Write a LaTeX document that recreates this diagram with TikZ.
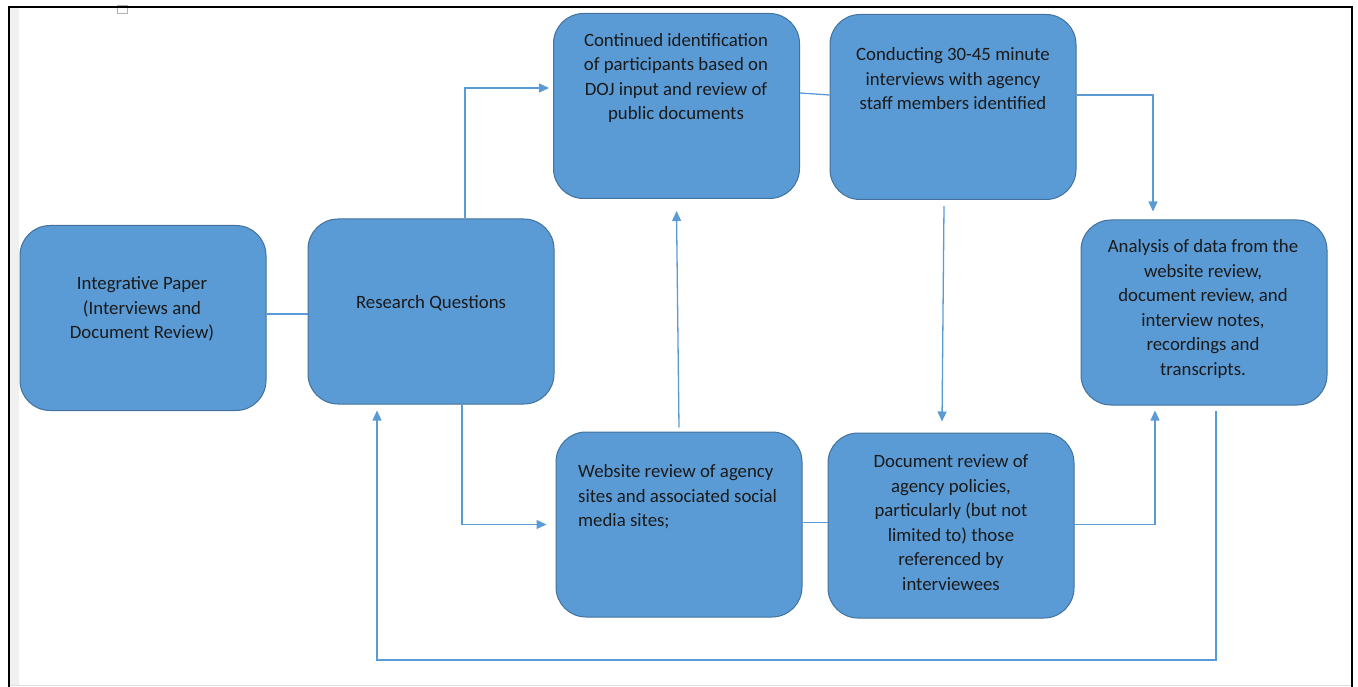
\documentclass[tikz,border=0pt]{standalone}
\usepackage{fontspec}
\setmainfont{Carlito}
\usetikzlibrary{arrows.meta,positioning}
\definecolor{boxblue}{HTML}{5B9BD5}
\definecolor{boxline}{HTML}{41719C}
\definecolor{textdark}{HTML}{1A1A1A}

\begin{document}
\begin{tikzpicture}[x=1pt,y=-1pt,
        stepbox/.style={draw=boxline, line width=1pt, fill=boxblue, rounded corners=30pt,
                minimum width=246pt, minimum height=185pt, inner sep=0pt},
        txt/.style={inner sep=0pt, align=center, text=textdark,
                font=\fontsize{18.8}{24.5}\selectfont},
        link/.style={draw=boxblue, line width=1.3pt},
        tip/.style={link, -{Triangle[length=10pt,width=9pt]}}]
        \useasboundingbox (0,0) rectangle (1358,687);

        % page frame
        \fill[gray!12] (10,8) rectangle (19,685);
        \draw[gray!25, line width=1pt] (10,685) -- (1351,685);
        \draw[gray!60, line width=0.8pt] (117,5) rectangle (127,13);
        \draw[black, line width=2pt] (9,687) -- (9,7) -- (1352,7) -- (1352,687);

        % boxes
        \node[stepbox] at (143,318) (paper) {};
        \node[stepbox] at (431,311.5) (rq) {};
        \node[stepbox] at (676.5,106) (cont) {};
        \node[stepbox] at (953,107) (cond) {};
        \node[stepbox] at (1204,312.5) (anal) {};
        \node[stepbox] at (679,524.5) (web) {};
        \node[stepbox] at (951,525.5) (doc) {};

        % texts
        \node[txt] at (142,309) (paperTxt) {Integrative Paper\\(Interviews and\\Document Review)};
        \node[txt] at (431,303) (rqTxt) {Research Questions};
        \node[txt] at (676,78) (contTxt) {Continued identification\\of participants based on\\DOJ input and review of\\public documents};
        \node[txt] at (953,79) (condTxt) {Conducting 30-45 minute\\interviews with agency\\staff members identified};
        \node[txt] at (1203,309) (analTxt) {Analysis of data from the\\website review,\\document review, and\\interview notes,\\recordings and\\transcripts.};
        \node[txt, align=left, anchor=west] at (578,497) (webTxt) {Website review of agency\\sites and associated social\\media sites;};
        \node[txt] at (951,522.5) (docTxt) {Document review of\\agency policies,\\particularly (but not\\limited to) those\\referenced by\\interviewees};

        % connectors
        \coordinate (back) at (377,660);
        \draw[link] ([yshift=4]paper.east) -- ([yshift=4]paper.east -| rq.west);
        \draw[tip] ([xshift=34]rq.north) |- ([xshift=-4,yshift=18]cont.west);
        \draw[tip] ([xshift=31]rq.south) |- ([xshift=-9]web.west);
        \draw[tip] ([yshift=4]web.north) -- ([yshift=-12]cont.south);
        \draw[link] ([yshift=13]cont.east) -- ([yshift=12]cond.west);
        \draw[tip] ([xshift=-9,yshift=-6]cond.south) -- ([xshift=-9,yshift=11]doc.north);
        \draw[tip] ([yshift=12]cond.east) -| ([xshift=-51,yshift=8]anal.north);
        \draw[link] ([yshift=2]web.east) -- ([yshift=2]web.east -| doc.west);
        \draw[tip] ([yshift=1]doc.east) -| ([xshift=-49,yshift=-5]anal.south);
        \draw[tip] ([xshift=12,yshift=-5]anal.south) |- (back) -- ([xshift=-54,yshift=-6]rq.south);

\end{tikzpicture}
\end{document}
